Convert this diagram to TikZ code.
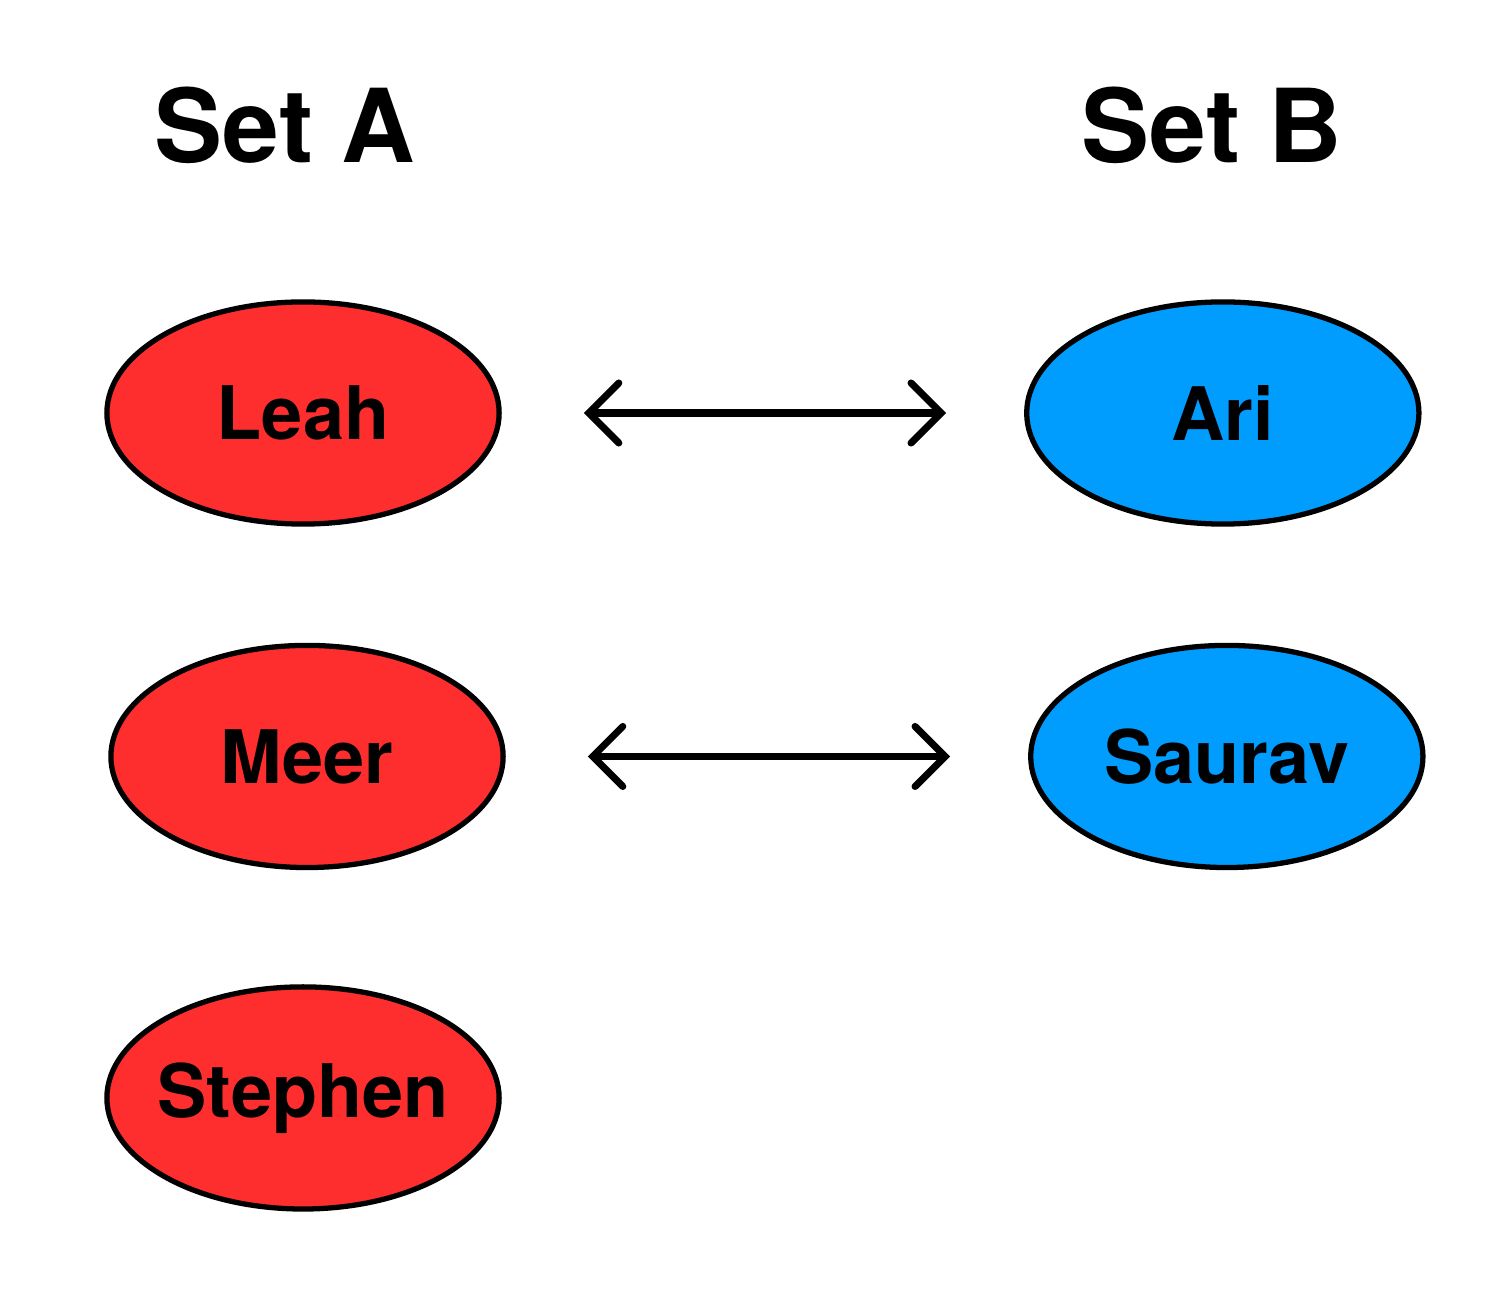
\documentclass[tikz,border=0pt]{standalone}
\usepackage{fontspec}
\setsansfont{TeX Gyre Heros}
\usetikzlibrary{shapes.geometric, arrows.meta, positioning}
\definecolor{setred}{RGB}{255, 46, 46}
\definecolor{setblue}{RGB}{0, 157, 255}

\begin{document}
\begin{tikzpicture}[
		x=0.01cm, y=-0.01cm,
		font=\sffamily\bfseries\fontsize{21}{25}\selectfont,
		% styles
		member/.style={ellipse, draw=black, line width=1.5pt, minimum width=3.92cm, minimum height=2.22cm, inner xsep=-0.8cm, inner ysep=0pt},
		amember/.style={member, fill=setred},
		bmember/.style={member, fill=setblue},
		title/.style={font=\sffamily\bfseries\fontsize{29}{34}\selectfont},
		pairing/.style={{Straight Barb[length=0.3cm, width=0.6cm, line cap=round]}-{Straight Barb[length=0.3cm, width=0.6cm, line cap=round]}, line width=2pt, line cap=round, shorten <=0.82cm, shorten >=0.78cm}
		]
		\useasboundingbox (0,0) rectangle (1510,1304);
		
		% Set A
		\node[title] (titleA) at (285,125) {Set A};
		\node[amember] (leah) at (303,413) {Leah};
		\node[amember, below=1.16cm of leah, xshift=0.04cm] (meer) {Meer};
		\node[amember, below=1.14cm of meer, xshift=-0.04cm] (stephen) {Stephen};
		
		% Set B
		\node[title] (titleB) at (1212,125) {Set B};
		\node[bmember, right=5.22cm of leah] (ari) {Ari};
		\node[bmember, below=1.16cm of ari, xshift=0.04cm] (saurav) {Saurav};
		
		% pairings
		\draw[pairing] (leah) -- (ari);
		\draw[pairing] (meer) -- (saurav);
		
	\end{tikzpicture}
\end{document}
